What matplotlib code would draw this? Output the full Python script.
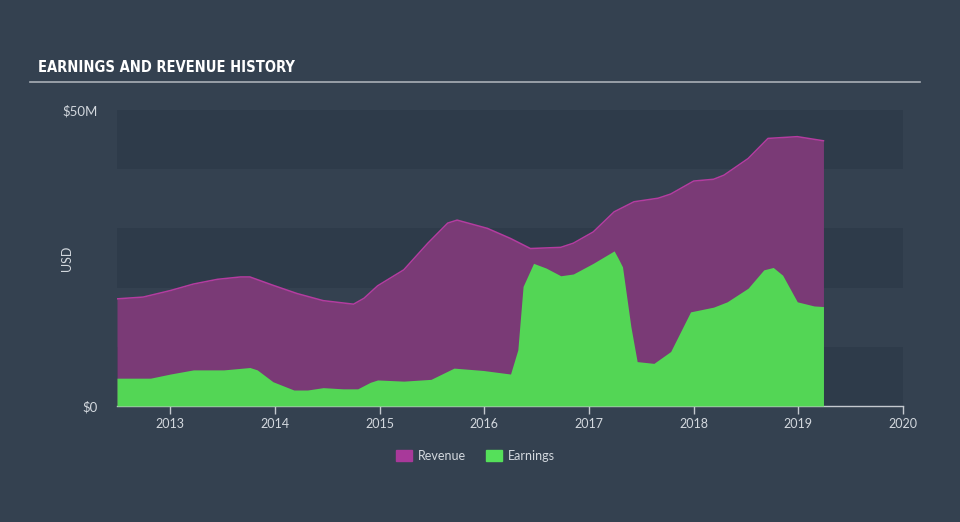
"""Earnings and revenue history area chart, dark dashboard style."""
import matplotlib
matplotlib.use("Agg")
import matplotlib.pyplot as plt
from matplotlib.patches import Patch
from matplotlib.lines import Line2D

BG, BAND, INK, AXIS = "#344150", "#2e3b4a", "#d3d8de", "#c4c9cf"
REV_FILL, REV_LINE, EARN = "#7a3a76", "#b43ca0", "#53d655"

# values in $M, dates as decimal years
rev_dates = [2012.49, 2012.74, 2013.00, 2013.22, 2013.45, 2013.67, 2013.76, 2013.98, 2014.21,
             2014.46, 2014.75, 2014.85, 2014.98, 2015.23, 2015.46, 2015.65, 2015.74, 2016.03,
             2016.25, 2016.44, 2016.73, 2016.85, 2017.04, 2017.24, 2017.43, 2017.66, 2017.78,
             2018.00, 2018.19, 2018.29, 2018.52, 2018.71, 2018.99, 2019.24]
revenue = [18.1, 18.4, 19.5, 20.6, 21.4, 21.8, 21.8, 20.4, 19.0,
           17.8, 17.2, 18.2, 20.3, 23.0, 27.5, 30.9, 31.4, 30.0,
           28.3, 26.6, 26.8, 27.5, 29.4, 32.8, 34.5, 35.1, 35.8,
           38.0, 38.3, 39.0, 41.8, 45.2, 45.5, 44.8]

earn_dates = [2012.49, 2012.81, 2013.00, 2013.22, 2013.51, 2013.76, 2013.83, 2013.98, 2014.18,
              2014.31, 2014.46, 2014.65, 2014.79, 2014.91, 2014.98, 2015.23, 2015.49, 2015.71,
              2015.99, 2016.25, 2016.32, 2016.37, 2016.47, 2016.59, 2016.73, 2016.85, 2017.04,
              2017.24, 2017.28, 2017.32, 2017.40, 2017.46, 2017.62, 2017.78, 2017.97, 2018.19,
              2018.32, 2018.52, 2018.67, 2018.76, 2018.85, 2018.99, 2019.15, 2019.24]
earnings = [4.7, 4.7, 5.4, 6.1, 6.1, 6.5, 6.1, 4.1, 2.7,
            2.7, 3.1, 2.9, 2.9, 4.0, 4.4, 4.2, 4.5, 6.4,
            6.0, 5.4, 9.5, 20.2, 24.1, 23.3, 22.0, 22.3, 24.1,
            26.2, 24.9, 23.5, 13.4, 7.5, 7.2, 9.2, 15.9, 16.7,
            17.6, 19.9, 23.0, 23.4, 22.1, 17.6, 16.9, 16.8]

years = [2013, 2014, 2015, 2016, 2017, 2018, 2019, 2020]
FONT = ["Lato", "DejaVu Sans"]

fig = plt.figure(figsize=(9.6, 5.22), dpi=100, facecolor=BG)
ax = fig.add_axes([117 / 960, 116 / 522, 786 / 960, 296 / 522])
ax.set_facecolor(BG)

# alternating horizontal bands every $10M
for lo in (0, 20, 40):
    ax.axhspan(lo, lo + 10, color=BAND, zorder=0, lw=0)

ax.fill_between(rev_dates, revenue, color=REV_FILL, lw=0, zorder=1)
ax.plot(rev_dates, revenue, color=REV_LINE, lw=1.1, zorder=2, solid_joinstyle="round")
ax.fill_between(earn_dates, earnings, color=EARN, lw=0, zorder=3)

ax.set_xlim(2012.49, 2020.0)
ax.set_ylim(0, 50)
ax.set_xticks(years)
ax.set_xticklabels([str(y) for y in years])
ax.set_yticks([0, 50])
ax.set_yticklabels(["$0", "$50M"])
for s in ("top", "right", "left"):
    ax.spines[s].set_visible(False)
ax.spines["bottom"].set_color(AXIS)
ax.spines["bottom"].set_linewidth(1.0)
ax.tick_params(axis="x", colors=AXIS, length=6, width=1, labelcolor=INK, labelsize=9, pad=3)
ax.tick_params(axis="y", length=0, labelcolor=INK, labelsize=9.5, pad=14)
for lab in ax.get_xticklabels() + ax.get_yticklabels():
    lab.set_family(FONT)
ax.set_ylabel("USD", color=INK, fontsize=9, family=FONT)
ax.yaxis.set_label_coords(-0.056, 0.5)

fig.text(38 / 960, 1 - 68 / 522, "EARNINGS AND REVENUE HISTORY", color="white", fontsize=10.5,
         fontweight="bold", fontstretch="condensed", family="DejaVu Sans", va="center")
fig.add_artist(Line2D([30 / 960, 920 / 960], [1 - 82 / 522] * 2, color="#a9afb7", lw=1.2))

handles = [Patch(color="#a8399a", label="Revenue"), Patch(color="#55e05a", label="Earnings")]
fig.legend(handles=handles, loc="center", bbox_to_anchor=(475 / 960, 1 - 456 / 522), ncol=2,
           frameon=False, labelcolor=INK, handlelength=1.3, handleheight=1.0,
           handletextpad=0.45, columnspacing=1.6, prop={"family": FONT, "size": 9})

fig.savefig("out.png", facecolor=BG)
